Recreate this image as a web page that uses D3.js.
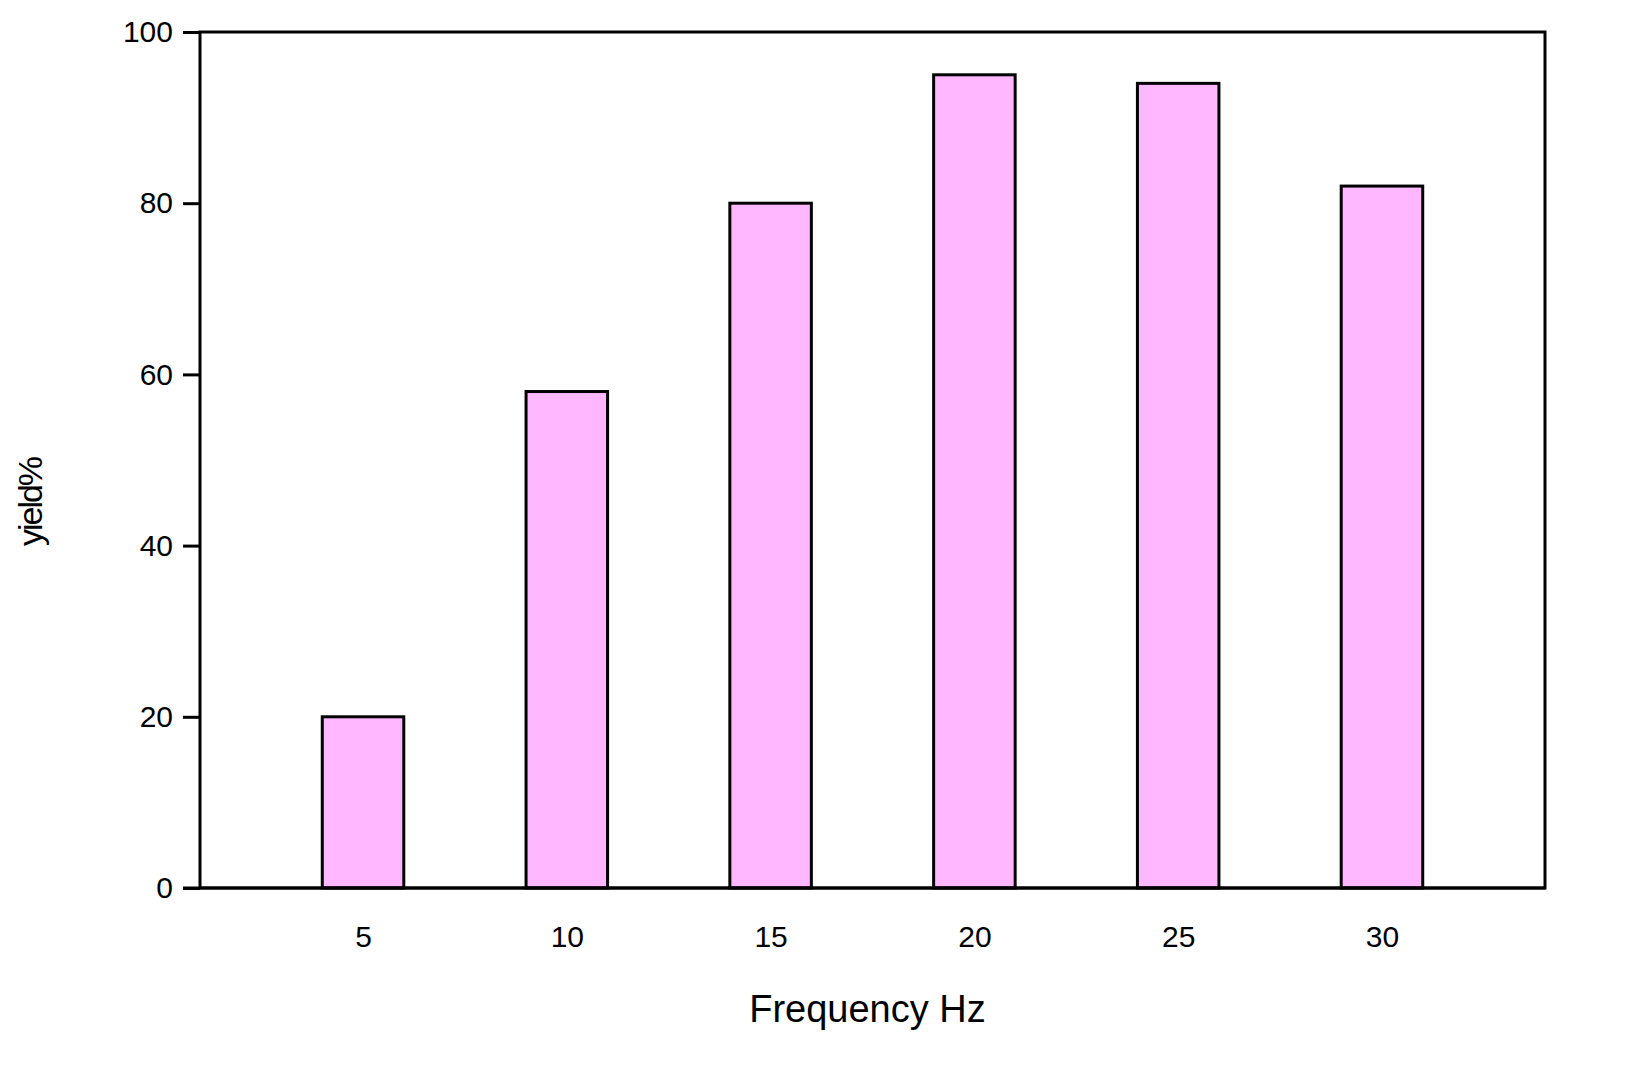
<!DOCTYPE html>
<html><head><meta charset="utf-8">
<script src="https://cdn.jsdelivr.net/npm/d3@7"></script>
<style>body{margin:0;background:#fff}text{font-family:"Liberation Sans",Arial,sans-serif}</style>
</head><body>
<svg id="chart" width="1639" height="1089"></svg>
<script>
const freqs = [5, 10, 15, 20, 25, 30];
const yields = [20, 58, 80, 95, 94, 82];
const yTicks = [0, 20, 40, 60, 80, 100];

const svg = d3.select('#chart');
const plotL = 200, plotR = 1545, plotT = 32, plotB = 888;

const x = d3.scaleLinear().domain([1, 34]).range([plotL, plotR]);
const y = d3.scaleLinear().domain([0, 100]).range([plotB, plotT]);

// bars
svg.selectAll('rect.bar')
  .data(freqs)
  .enter().append('rect')
  .attr('class', 'bar')
  .attr('x', d => x(d - 1))
  .attr('width', x(2) - x(0))
  .attr('y', (d, i) => y(yields[i]))
  .attr('height', (d, i) => plotB - y(yields[i]))
  .attr('fill', '#ffb8ff')
  .attr('stroke', '#000')
  .attr('stroke-width', 3);

// frame
svg.append('rect')
  .attr('x', plotL).attr('y', plotT)
  .attr('width', plotR - plotL).attr('height', plotB - plotT)
  .attr('fill', 'none').attr('stroke', '#000').attr('stroke-width', 3);

// y axis
const yAxis = d3.axisLeft(y).tickValues(yTicks).tickSize(17).tickPadding(10);
const yg = svg.append('g').attr('transform', `translate(${plotL},0)`).call(yAxis);
yg.select('.domain').remove();
yg.selectAll('line').attr('stroke-width', 3);
yg.selectAll('text').attr('font-size', 30).attr('fill', '#000');

// x axis
const xAxis = d3.axisBottom(x).tickValues(freqs).tickSize(0).tickPadding(38);
const xg = svg.append('g').attr('transform', `translate(0,${plotB})`).call(xAxis);
xg.select('.domain').remove();
xg.selectAll('text').attr('font-size', 30).attr('fill', '#000');
svg.append('line').attr('x1', 183).attr('x2', plotR)
  .attr('y1', plotB).attr('y2', plotB).attr('stroke', '#000').attr('stroke-width', 3);

// labels
svg.append('text').attr('x', (plotL + plotR) / 2 - 5).attr('y', 1022)
  .attr('text-anchor', 'middle').attr('font-size', 38).text('Frequency Hz');
svg.append('text').attr('transform', `translate(42,${(plotT + plotB) / 2 + 42}) rotate(-90)`)
  .attr('text-anchor', 'middle').attr('font-size', 34).attr('letter-spacing', -2).text('yield%');
</script>
</body></html>
